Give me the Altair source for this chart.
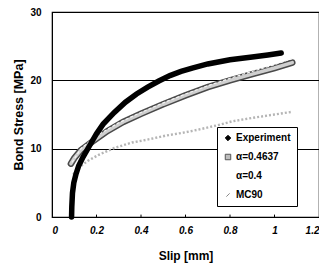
import altair as alt
import pandas as pd

# Experiment curve (slip mm, bond stress MPa)
exp_x = [0.088, 0.089, 0.092, 0.098, 0.108, 0.12, 0.14, 0.17, 0.2, 0.23, 0.28, 0.33, 0.38, 0.43, 0.48, 0.53, 0.58, 0.63, 0.7, 0.8, 0.9, 0.97, 1.03]
exp_y = [0.0, 1.5, 3.5, 5.0, 6.3, 7.5, 8.8, 10.5, 12.2, 13.6, 15.3, 16.8, 18.0, 19.0, 19.9, 20.7, 21.3, 21.8, 22.4, 23.0, 23.4, 23.7, 24.0]

# alpha = 0.4637 model
a1_x = [0.085, 0.1, 0.13, 0.18, 0.25, 0.32, 0.4, 0.5, 0.6, 0.7, 0.8, 0.9, 1.0, 1.08]
a1_y = [7.8, 8.6, 9.8, 11.0, 12.6, 13.9, 15.1, 16.5, 17.8, 19.0, 20.0, 20.9, 21.8, 22.6]

# alpha = 0.4 model
a2_x = [0.09, 0.13, 0.2, 0.3, 0.4, 0.5, 0.6, 0.7, 0.8, 0.9, 1.0, 1.08]
a2_y = [8.0, 10.0, 11.9, 13.8, 15.3, 16.7, 18.0, 19.2, 20.3, 21.3, 22.3, 23.2]

# MC90
mc_x = [0.095, 0.12, 0.16, 0.21, 0.28, 0.36, 0.44, 0.51, 0.6, 0.66, 0.74, 0.81, 0.9, 1.0, 1.08]
mc_y = [6.2, 7.2, 8.2, 9.1, 10.1, 10.9, 11.4, 11.9, 12.4, 12.8, 13.4, 14.0, 14.5, 15.0, 15.4]

series = ["Experiment", "α=0.4637", "α=0.4", "MC90"]
x_ticks = [0.2, 0.4, 0.6, 0.8, 1.0]

exp_df = pd.DataFrame({"slip": exp_x, "stress": exp_y, "series": series[0]})
a1_df = pd.DataFrame({"slip": a1_x, "stress": a1_y, "series": series[1]})
a2_df = pd.DataFrame({"slip": a2_x, "stress": a2_y, "series": series[2]})
mc_df = pd.DataFrame({"slip": mc_x, "stress": mc_y, "series": series[3]})
all_df = pd.concat([exp_df, a1_df, a2_df, mc_df])
tick_df = pd.DataFrame({"slip": x_ticks, "y0": 0.0, "y1": 0.35})

xs = alt.Scale(domain=[0, 1.2], nice=False)
ys = alt.Scale(domain=[0, 30], nice=False)

X = alt.X("slip:Q", scale=xs, title="Slip [mm]",
          axis=alt.Axis(values=[0, 0.2, 0.4, 0.6, 0.8, 1.0, 1.2], labelExpr="datum.value == 0 ? '0' : format(datum.value, '.1~f')",
                        ticks=False, grid=False, labelFontStyle="italic", labelFontWeight="bold",
                        labelFontSize=10, labelPadding=8, titleFontSize=12, titleFontWeight="bold",
                        titlePadding=15, domainColor="black", labelColor="black", titleColor="black"))
Y = alt.Y("stress:Q", scale=ys, title="Bond Stress [MPa]",
          axis=alt.Axis(values=[0, 10, 20, 30], ticks=False, grid=True, gridColor="black", gridWidth=1,
                        labelFontWeight="bold", labelFontSize=10, labelPadding=11,
                        titleFontSize=12.5, titleFontWeight="bold", titlePadding=4,
                        domainColor="black", labelColor="black", titleColor="black"))

base = alt.Chart(all_df)

mc_line = alt.Chart(mc_df).mark_line(color="#b5b5b5", strokeWidth=2.4, strokeDash=[2, 2]).encode(x=X, y=Y)
a1_outline = alt.Chart(a1_df).mark_line(color="#4a4a4a", strokeWidth=6.5, strokeCap="round").encode(x=X, y=Y)
a1_fill = alt.Chart(a1_df).mark_line(color="#cfcfcf", strokeWidth=3.5, strokeCap="round").encode(x=X, y=Y)
a2_line = alt.Chart(a2_df).mark_line(color="#f4f4f4", strokeWidth=1.2, strokeDash=[3, 2]).encode(x=X, y=Y)
exp_line = alt.Chart(exp_df).mark_line(color="black", strokeWidth=5.5, strokeCap="round").encode(x=X, y=Y)
ticks = alt.Chart(tick_df).mark_rule(color="black", strokeWidth=1).encode(
    x=alt.X("slip:Q", scale=xs), y=alt.Y("y0:Q", scale=ys), y2="y1:Q")

slash = "M-0.6,0.6L0.6,-0.6"
leg = dict(title=None, orient="none", legendX=165, legendY=115, symbolOpacity=1)
legend_layer = base.mark_point(opacity=0, filled=True).encode(
    x=X, y=Y,
    shape=alt.Shape("series:N", scale=alt.Scale(domain=series, range=["diamond", "square", "circle", slash]),
                    legend=alt.Legend(strokeColor="black", fillColor="white",
                                      padding=6, rowPadding=9, labelFontSize=10, labelFontWeight="bold",
                                      labelColor="black", symbolSize=30, symbolStrokeWidth=1,
                                      labelOffset=3, cornerRadius=0, **leg)),
    fill=alt.Fill("series:N", scale=alt.Scale(domain=series, range=["black", "#bdbdbd", "white", "white"]), legend=alt.Legend(**leg)),
    stroke=alt.Stroke("series:N", scale=alt.Scale(domain=series, range=["black", "#555555", "white", "#888888"]), legend=alt.Legend(**leg)),
)

chart = alt.layer(mc_line, a1_outline, a1_fill, a2_line, exp_line, ticks, legend_layer).properties(
    width=267, height=205,
    autosize=alt.AutoSizeParams(type="none"),
    padding={"left": 44, "top": 4, "right": 0, "bottom": 50},
).configure_view(stroke="black", strokeWidth=1.2).configure_axis(labelFont="Liberation Sans", titleFont="Liberation Sans").configure_legend(labelFont="Liberation Sans")

chart.save("out.html", embed_options={"renderer": "svg", "actions": False})
